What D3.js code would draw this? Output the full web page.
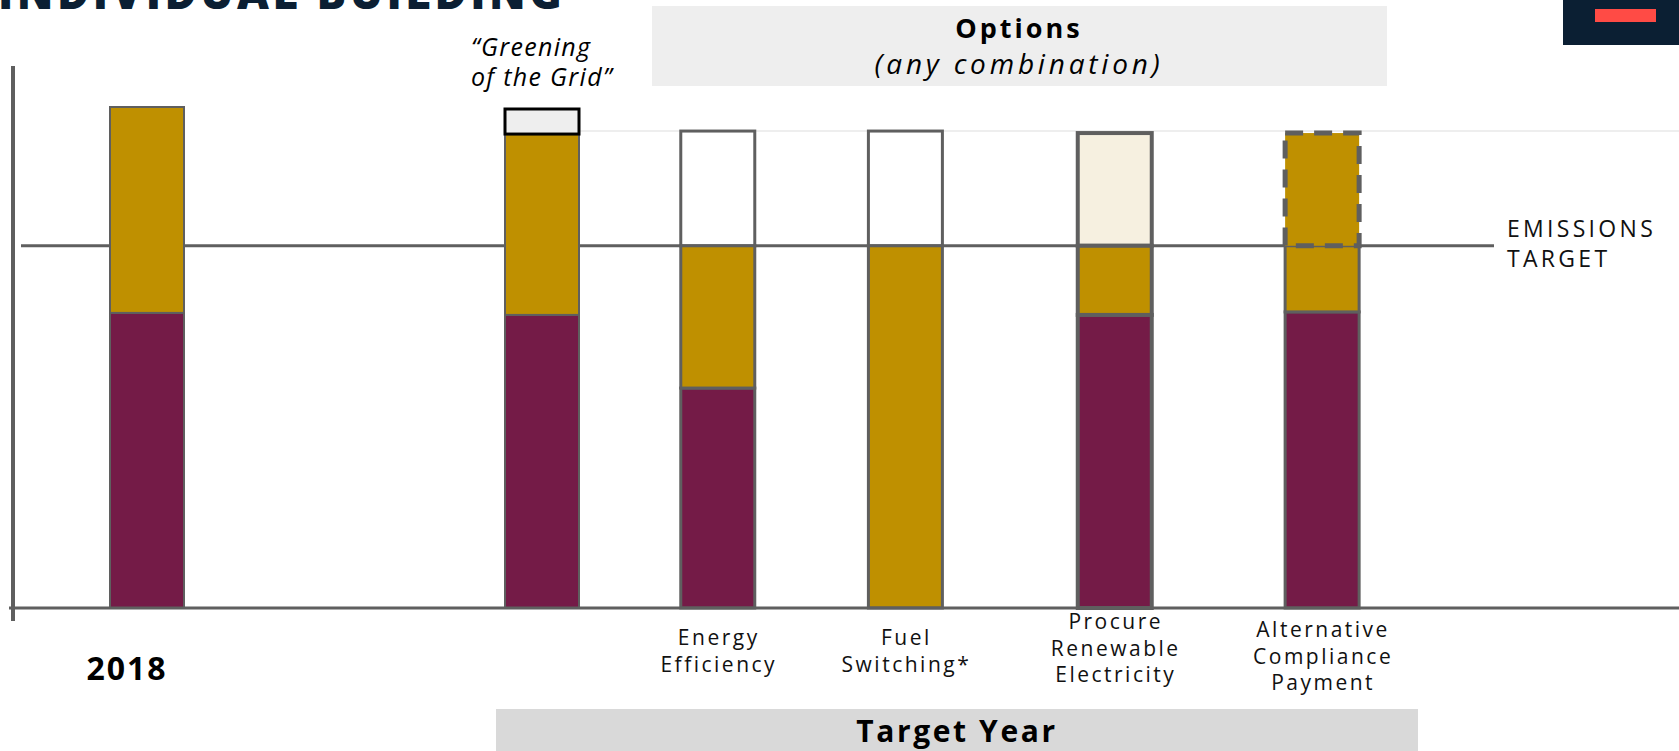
<!DOCTYPE html>
<html>
<head>
<meta charset="utf-8">
<script src="https://cdn.jsdelivr.net/npm/d3@7"></script>
<style>
  body { margin: 0; background: #fff; }
  svg { display: block; font-family: "Open Sans", "Noto Sans", sans-serif; }
</style>
</head>
<body>
<svg id="chart" width="1679" height="751"></svg>
<script>
// bar data (emissions, 2018 total = 100)
var categories = ["2018", "Greening of the Grid", "Energy Efficiency", "Fuel Switching*", "Procure Renewable Electricity", "Alternative Compliance Payment"];
var labelLines = [[], [], ["Energy", "Efficiency"], ["Fuel", "Switching*"], ["Procure", "Renewable", "Electricity"], ["Alternative", "Compliance", "Payment"]];
var slots = [0, 2.0, 2.89, 3.84, 4.9, 5.95];
var purpleVals = [58.9, 58.5, 43.9, 0, 58.5, 59.1];
var goldVals = [41.1, 36.1, 28.4, 72.3, 13.8, 13.2];
var topVals = [0, 5.0, 22.9, 22.9, 22.5, 22.5];
var topKinds = ["none", "grid", "outline", "outline", "cream", "dashed"];
var emissionsTarget = 72.3;
var priorLevel = 95.2;

var colors = {
  purple: "#741b47",
  gold: "#bf9000",
  stroke: "#5f5f5f",
  cream: "#f6f0e0",
  grid: "#eeeeee",
  navy: "#0b1f33",
  red: "#ff4b45"
};

var svg = d3.select("#chart");

var y = d3.scaleLinear().domain([0, 100]).range([608, 107]);
var x = d3.scaleLinear().domain([0, 1]).range([147, 344.5]);
var barW = 74;

// cut-off heading at the very top
svg.append("text")
  .attr("x", -2).attr("y", 9)
  .attr("font-size", 44).attr("font-weight", 800)
  .attr("letter-spacing", 3.5)
  .attr("fill", colors.navy)
  .text("INDIVIDUAL BUILDING");

// corner badge
svg.append("rect").attr("x", 1563).attr("y", 0).attr("width", 116).attr("height", 45).attr("fill", colors.navy);
svg.append("rect").attr("x", 1595).attr("y", 9).attr("width", 61).attr("height", 13).attr("fill", colors.red);

// options header box
svg.append("rect").attr("x", 652).attr("y", 6).attr("width", 735).attr("height", 80).attr("fill", "#eeeeee");
svg.append("text").attr("x", 1019).attr("y", 38).attr("text-anchor", "middle")
  .attr("font-size", 27).attr("font-weight", 700).attr("letter-spacing", 3).text("Options");
svg.append("text").attr("x", 1019).attr("y", 74).attr("text-anchor", "middle")
  .attr("font-size", 28).attr("font-style", "italic").attr("letter-spacing", 3.8).text("(any combination)");

// greening note
var note = svg.append("text").attr("font-size", 25).attr("font-style", "italic").attr("letter-spacing", 1.3);
note.append("tspan").attr("x", 471).attr("y", 56).text("\u201cGreening");
note.append("tspan").attr("x", 471).attr("y", 86).text("of the Grid\u201d");

// faint line at prior level
svg.append("line")
  .attr("x1", x(slots[1]) + barW / 2).attr("x2", 1679)
  .attr("y1", y(priorLevel)).attr("y2", y(priorLevel))
  .attr("stroke", colors.grid).attr("stroke-width", 2);

// emissions target line
svg.append("line")
  .attr("x1", 21).attr("x2", 1494)
  .attr("y1", y(emissionsTarget)).attr("y2", y(emissionsTarget))
  .attr("stroke", colors.stroke).attr("stroke-width", 3);

var et = svg.append("text").attr("font-size", 23).attr("letter-spacing", 3.3).attr("fill", "#111");
et.append("tspan").attr("x", 1507).attr("y", y(emissionsTarget) - 9).text("EMISSIONS");
et.append("tspan").attr("x", 1507).attr("y", y(emissionsTarget) + 21).text("TARGET");

// bars
var bars = svg.selectAll("g.bar")
  .data(categories.map(function(c, i) { return i; }))
  .enter().append("g").attr("class", "bar");

bars.each(function(i) {
  var g = d3.select(this);
  var x0 = x(slots[i]) - barW / 2;
  var p = purpleVals[i], gd = goldVals[i], t = topVals[i];
  var kind = topKinds[i];
  var sw = i === 0 || i === 1 ? 2 : (i === 4 ? 4 : 3);

  if (kind === "outline" || kind === "cream") {
    g.append("rect")
      .attr("x", x0).attr("width", barW)
      .attr("y", y(p + gd + t)).attr("height", y(p + gd) - y(p + gd + t))
      .attr("fill", kind === "cream" ? colors.cream : "#fff")
      .attr("stroke", colors.stroke).attr("stroke-width", sw);
  }
  if (p > 0) {
    g.append("rect")
      .attr("x", x0).attr("width", barW)
      .attr("y", y(p)).attr("height", y(0) - y(p))
      .attr("fill", colors.purple)
      .attr("stroke", colors.stroke).attr("stroke-width", sw);
  }
  g.append("rect")
    .attr("x", x0).attr("width", barW)
    .attr("y", y(p + gd)).attr("height", y(p) - y(p + gd))
    .attr("fill", colors.gold)
    .attr("stroke", colors.stroke).attr("stroke-width", sw);

  if (kind === "grid") {
    g.append("rect")
      .attr("x", x0).attr("width", barW)
      .attr("y", y(p + gd + t)).attr("height", y(p + gd) - y(p + gd + t))
      .attr("fill", colors.grid)
      .attr("stroke", "#000").attr("stroke-width", 3);
  }
  if (kind === "dashed") {
    g.append("rect")
      .attr("x", x0).attr("width", barW)
      .attr("y", y(p + gd + t)).attr("height", y(p + gd) - y(p + gd + t))
      .attr("fill", colors.gold)
      .attr("stroke", colors.stroke).attr("stroke-width", 5)
      .attr("stroke-dasharray", "18,11");
  }

  var lines = labelLines[i];
  if (lines.length) {
    var lbl = g.append("text").attr("text-anchor", "middle")
      .attr("font-size", 21).attr("letter-spacing", 2.5).attr("fill", "#111");
    var startY = 658 - (lines.length - 1) * 13 + (i === 5 ? 5 : (i === 4 ? -3 : 0));
    lines.forEach(function(l, k) {
      lbl.append("tspan").attr("x", x(slots[i]) + 1).attr("y", startY + k * 26.5).text(l);
    });
  }
});

// axes
svg.append("line").attr("x1", 9).attr("x2", 1679).attr("y1", y(0)).attr("y2", y(0))
  .attr("stroke", colors.stroke).attr("stroke-width", 3);
svg.append("line").attr("x1", 13).attr("x2", 13).attr("y1", 66).attr("y2", 621)
  .attr("stroke", colors.stroke).attr("stroke-width", 4);

// 2018 label
svg.append("text").attr("x", x(slots[0]) - 20).attr("y", 680).attr("text-anchor", "middle")
  .attr("font-size", 32).attr("font-weight", 700).attr("letter-spacing", 2).text("2018");

// target year box
svg.append("rect").attr("x", 496).attr("y", 709).attr("width", 922).attr("height", 42).attr("fill", "#d9d9d9");
svg.append("text").attr("x", 957).attr("y", 742).attr("text-anchor", "middle")
  .attr("font-size", 30).attr("font-weight", 700).attr("letter-spacing", 2.6).text("Target Year");
</script>
</body>
</html>
